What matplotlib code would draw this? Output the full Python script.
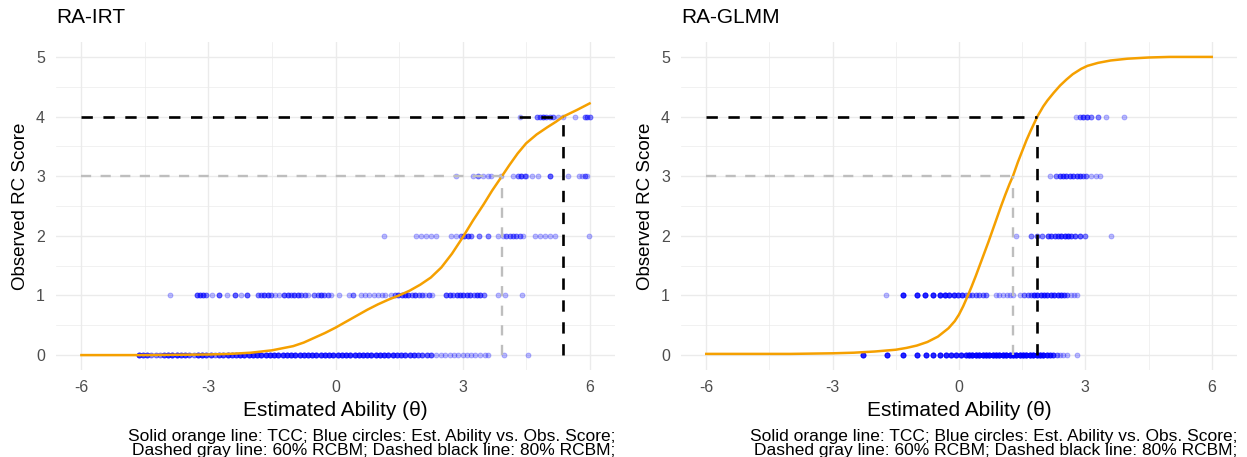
import numpy as np
import matplotlib.pyplot as plt
from matplotlib.ticker import MultipleLocator

plt.rcParams['font.family'] = ['Liberation Sans', 'DejaVu Sans']
plt.rcParams['axes.unicode_minus'] = False

# test characteristic curves: ability (theta) vs expected RC score
irt_theta = [-6.0, -4.5, -3.0, -2.5, -2.0, -1.5, -1.0, -0.75, -0.5, -0.25, 0.0, 0.25, 0.5,
             0.75, 1.0, 1.25, 1.5, 1.75, 2.0, 2.25, 2.5, 2.75, 3.0, 3.25, 3.5, 3.7, 3.93,
             4.1, 4.3, 4.5, 4.75, 5.0, 5.2, 5.38, 5.7, 6.0]
irt_tcc = [0.0, 0.0, 0.01, 0.02, 0.04, 0.08, 0.15, 0.21, 0.29, 0.37, 0.46, 0.56, 0.66,
           0.76, 0.85, 0.93, 1.0, 1.08, 1.18, 1.3, 1.47, 1.7, 1.97, 2.26, 2.53, 2.76, 3.0,
           3.18, 3.38, 3.55, 3.7, 3.82, 3.91, 4.0, 4.11, 4.22]

glmm_theta = [-6.0, -4.0, -3.0, -2.5, -2.0, -1.5, -1.25, -1.0, -0.75, -0.5, -0.25, -0.1,
              0.0, 0.1, 0.2, 0.3, 0.4, 0.5, 0.6, 0.7, 0.8, 0.9, 1.0, 1.1, 1.2, 1.28, 1.4,
              1.5, 1.6, 1.7, 1.86, 2.0, 2.1, 2.25, 2.4, 2.55, 2.7, 2.9, 3.05, 3.3, 3.6,
              4.0, 4.5, 5.0, 6.0]
glmm_tcc = [0.02, 0.02, 0.03, 0.04, 0.06, 0.09, 0.12, 0.16, 0.22, 0.31, 0.45, 0.57,
            0.68, 0.82, 0.98, 1.15, 1.33, 1.52, 1.71, 1.9, 2.1, 2.3, 2.5, 2.69, 2.87, 3.0,
            3.24, 3.42, 3.6, 3.76, 4.0, 4.17, 4.27, 4.4, 4.52, 4.62, 4.71, 4.8, 4.85, 4.9,
            4.94, 4.97, 4.99, 5.0, 5.0]

# theta where the TCC reaches 60% (score 3) and 80% (score 4) of the maximum
irt_cut60, irt_cut80 = 3.93, 5.38
glmm_cut60, glmm_cut80 = 1.28, 1.86

# estimated abilities for each observed score, with the number of students at each value
irt_s0 = [-4.65, -4.55, -4.45, -4.35, -4.25, -4.15, -4.05, -3.95, -3.85, -3.75, -3.65, -3.55,
          -3.45, -3.35, -3.25, -3.15, -3.05, -2.95, -2.85, -2.75, -2.65, -2.55, -2.45, -2.35,
          -2.25, -2.15, -2.05, -1.95, -1.85, -1.75, -1.65, -1.55, -1.45, -1.35, -1.25, -1.15,
          -1.05, -0.95, -0.85, -0.75, -0.65, -0.55, -0.45, -0.35, -0.25, -0.15, -0.05, 0.05,
          0.15, 0.25, 0.35, 0.45, 0.55, 0.65, 0.75, 0.85, 0.95, 1.05, 1.15, 1.25, 1.35, 1.45,
          1.55, 1.65, 1.75, 1.85, 1.95, 2.05, 2.15, 2.25, 2.38, 2.48, 2.58, 2.7, 2.8, 2.9,
          3.0, 3.1, 3.2, 3.3, 3.42, 3.52, 3.6, 3.99, 4.55]
irt_s0_n = [5, 4, 4, 2, 2, 2, 4, 5, 5, 5, 4, 4,
            3, 2, 5, 5, 4, 4, 2, 4, 4, 5, 4, 4,
            5, 5, 5, 5, 5, 5, 5, 5, 5, 5, 5, 5,
            5, 5, 5, 5, 5, 5, 5, 5, 5, 5, 5, 5,
            5, 5, 5, 5, 5, 5, 5, 5, 5, 5, 5, 5, 5, 4,
            4, 4, 4, 4, 3, 3, 3, 3, 1, 1, 1, 1, 1, 1,
            1, 1, 1, 1, 1, 1, 1, 1, 1]

irt_s1 = [-3.91, -3.28, -3.2, -3.13, -3.06, -2.92, -2.75, -2.56, -2.38, -2.22, -2.08, -1.84,
          -1.76, -1.68, -1.6, -1.52, -1.43, -1.33, -1.21, -1.13, -1.05, -0.97, -0.89, -0.81,
          -0.73, -0.66, -0.5, -0.42, -0.34, -0.26, -0.18, -0.1, 0.09, 0.33, 0.41, 0.61, 0.69,
          0.8, 0.9, 1.0, 1.1, 1.16, 1.32, 1.4, 1.48, 1.56, 1.64, 1.72, 1.8, 1.88, 1.96, 2.04,
          2.12, 2.2, 2.28, 2.62, 2.7, 2.78, 2.86, 2.94, 3.02, 3.1, 3.18, 3.26, 3.34, 3.42, 3.5,
          3.84, 4.0, 4.41]
irt_s1_n = [1, 3, 3, 3, 2, 1, 3, 1, 3, 1, 3, 2,
            2, 3, 3, 2, 1, 1, 3, 3, 2, 3, 3, 2,
            2, 1, 2, 2, 3, 2, 2, 1, 1, 1, 2, 1, 1,
            1, 1, 1, 1, 1, 1, 2, 3, 3, 3, 3, 2, 3, 2, 2,
            1, 2, 1, 3, 3, 2, 3, 3, 3, 3, 3, 2, 3, 3, 2,
            1, 1, 1]

irt_s2 = [1.15, 1.89, 2.01, 2.13, 2.25, 2.37, 2.72, 2.84, 2.96, 3.04, 3.12, 3.2, 3.4, 3.6,
          3.83, 3.95, 4.03, 4.11, 4.19, 4.27, 4.35, 4.43, 4.71, 4.83, 4.94, 5.06, 5.18, 5.98]
irt_s2_n = [1, 1, 1, 1, 1, 1, 1, 1, 2, 3, 3, 2, 2, 2,
            1, 1, 2, 2, 2, 2, 2, 1, 1, 1, 1, 1, 1, 1]

irt_s3 = [2.84, 3.24, 3.36, 3.48, 3.6, 3.67, 3.91, 4.19, 4.31, 4.39, 4.47, 4.51, 4.63, 4.79,
          5.06, 5.5, 5.74, 5.82, 5.9, 5.94]
irt_s3_n = [1, 1, 2, 1, 1, 1, 1, 1, 2, 3, 2, 1, 1, 1,
            3, 1, 1, 1, 2, 1]

irt_s4 = [4.35, 4.75, 4.83, 4.9, 4.98, 5.06, 5.14, 5.26, 5.38, 5.66, 5.88, 5.95, 6.0]
irt_s4_n = [1, 2, 2, 3, 2, 2, 2, 1, 1, 1, 2, 2, 2]

glmm_s0 = [-2.27, -1.72, -1.33, -1.0, -0.79, -0.61, -0.45, -0.32, -0.2, -0.08, 0.04, 0.16,
           0.24, 0.32, 0.4, 0.48, 0.56, 0.64, 0.72, 0.8, 0.88, 0.96, 1.04, 1.12, 1.2, 1.28,
           1.36, 1.44, 1.52, 1.6, 1.68, 1.76, 1.84, 1.92, 2.0, 2.08, 2.16, 2.24, 2.32, 2.4,
           2.48, 2.56, 2.79]
glmm_s0_n = [6, 6, 6, 6, 6, 6, 6, 6, 6, 6, 6, 6,
             8, 8, 8, 8, 8, 8, 8, 8, 8, 8, 8, 8, 8, 8,
             8, 8, 8, 8, 8, 8, 8, 8, 8, 6, 5, 4, 2, 1,
             1, 1, 1]

glmm_s1 = [-1.74, -1.32, -0.99, -0.81, -0.61, -0.45, -0.34, -0.23, -0.12, -0.02, 0.08, 0.16,
           0.24, 0.32, 0.4, 0.48, 0.56, 0.63, 0.87, 0.95, 1.05, 1.14, 1.22, 1.29, 1.46, 1.55,
           1.63, 1.7, 1.78, 1.86, 1.94, 2.02, 2.1, 2.18, 2.26, 2.34, 2.42, 2.49, 2.57, 2.65,
           2.72, 2.8]
glmm_s1_n = [1, 6, 6, 6, 6, 6, 6, 5, 5, 4, 4, 2,
             2, 2, 2, 2, 2, 2, 1, 1, 1, 1, 1, 1, 1, 2,
             2, 2, 4, 4, 4, 4, 4, 4, 4, 4, 4, 3, 2, 1,
             1, 1]

glmm_s2 = [1.35, 1.72, 1.84, 1.96, 2.12, 2.19, 2.27, 2.35, 2.43, 2.51, 2.59, 2.67, 2.75,
           2.87, 2.98, 3.6]
glmm_s2_n = [1, 2, 2, 2, 3, 3, 3, 3, 4, 4, 4, 3, 3, 3, 2, 1]

glmm_s3 = [2.16, 2.31, 2.39, 2.47, 2.55, 2.63, 2.71, 2.79, 2.87, 2.94, 3.02, 3.14, 3.26, 3.34]
glmm_s3_n = [1, 2, 3, 3, 3, 3, 3, 3, 3, 2, 2, 1, 1, 1]

glmm_s4 = [2.77, 2.87, 2.94, 3.04, 3.14, 3.3, 3.48, 3.91]
glmm_s4_n = [1, 2, 3, 3, 2, 2, 1, 1]

caption = ("Solid orange line: TCC; Blue circles: Est. Ability vs. Obs. Score;\n"
           "Dashed gray line: 60% RCBM; Dashed black line: 80% RCBM;")

W, H = 1247, 457
fig = plt.figure(figsize=(W / 100, H / 100), dpi=100, facecolor='white')


def draw_panel(rect, title, theta, tcc, cut60, cut80, rows, counts):
    ax = fig.add_axes(rect)
    # observed scores
    for score, (xs, ns) in enumerate(zip(rows, counts)):
        x = np.repeat(xs, ns)
        ax.scatter(x, np.full(len(x), score), s=13, color='blue', alpha=0.27,
                   linewidths=0.6, zorder=2)
    ax.plot(theta, tcc, color='#F5A000', lw=1.8, zorder=3)
    # RCBM reference lines
    dash = (0, (4.3, 4.0))
    ax.plot([-6, cut60], [3, 3], color='#BEBEBE', lw=1.7, ls=dash, zorder=4)
    ax.plot([cut60, cut60], [0, 3], color='#BEBEBE', lw=1.7, ls=dash, zorder=4)
    ax.plot([-6, cut80], [4, 4], color='black', lw=1.9, ls=dash, zorder=5)
    ax.plot([cut80, cut80], [0, 4], color='black', lw=1.9, ls=dash, zorder=5)

    ax.set_xlim(-6.6, 6.6)
    ax.set_ylim(-0.25, 5.25)
    ax.set_xticks([-6, -3, 0, 3, 6])
    ax.set_yticks(range(6))
    ax.xaxis.set_minor_locator(MultipleLocator(1.5))
    ax.yaxis.set_minor_locator(MultipleLocator(0.5))
    ax.grid(which='major', color='#EBEBEB', lw=1.0)
    ax.grid(which='minor', color='#EBEBEB', lw=0.5)
    ax.set_axisbelow(True)
    ax.tick_params(which='both', length=0, labelsize=11.5, labelcolor='#4D4D4D')
    ax.tick_params(axis='x', pad=7)
    ax.tick_params(axis='y', pad=8)
    for sp in ax.spines.values():
        sp.set_visible(False)

    ax.text(0.5, -0.122, 'Estimated Ability (θ)', transform=ax.transAxes,
            ha='center', va='center', fontsize=15)
    ax.text(-0.064, 0.5, 'Observed RC Score', transform=ax.transAxes, rotation=90,
            ha='center', va='center', fontsize=13.5)
    ax.text(0.0, 1.074, title, transform=ax.transAxes, ha='left', va='center', fontsize=15)
    ax.text(1.0, -0.181, caption, transform=ax.transAxes, ha='right', va='top',
            multialignment='right', fontsize=12.5, linespacing=0.9)
    return ax


bottom, height = 87 / H, 328 / H
draw_panel([56 / W, bottom, 559 / W, height], 'RA-IRT', irt_theta, irt_tcc,
           irt_cut60, irt_cut80,
           [irt_s0, irt_s1, irt_s2, irt_s3, irt_s4],
           [irt_s0_n, irt_s1_n, irt_s2_n, irt_s3_n, irt_s4_n])
draw_panel([681 / W, bottom, 556 / W, height], 'RA-GLMM', glmm_theta, glmm_tcc,
           glmm_cut60, glmm_cut80,
           [glmm_s0, glmm_s1, glmm_s2, glmm_s3, glmm_s4],
           [glmm_s0_n, glmm_s1_n, glmm_s2_n, glmm_s3_n, glmm_s4_n])

fig.savefig('out.png', dpi=100, facecolor='white')
